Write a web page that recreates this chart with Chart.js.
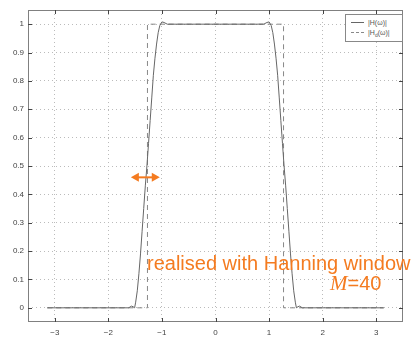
<!DOCTYPE html>
<html>
<head>
<meta charset="utf-8">
<script src="https://cdn.jsdelivr.net/npm/chart.js@4/dist/chart.umd.min.js"></script>
<style>
  body { margin: 0; background: #fff; }
  #wrap { position: relative; width: 417px; height: 343px; }
  .note { position: absolute; color: #F47B20; font-family: "Liberation Sans", Arial, sans-serif; font-size: 20px; line-height: 20px; white-space: nowrap; }
  .note i { font-family: "Liberation Serif", "Times New Roman", serif; font-size: 21px; }
  #legend { position: absolute; left: 345px; top: 14px; width: 56px; height: 26px; border: 1px solid #888; background: #fff;
            font-family: "Liberation Sans", Arial, sans-serif; font-size: 7px; color: #555; -webkit-font-smoothing: antialiased; }
  .row { position: absolute; left: 0; height: 9px; line-height: 9px; }
  .sample { position: absolute; left: 5px; top: 4px; width: 13px; height: 0; }
  .lbl { position: absolute; left: 22px; top: 0; white-space: nowrap; }
</style>
</head>
<body>
<div id="wrap">
  <canvas id="freqChart"></canvas>
  <div id="legend">
    <div class="row" style="top:3px"><div class="sample" style="border-top:1px solid #666"></div><span class="lbl">|H(ω)|</span></div>
    <div class="row" style="top:13px"><div class="sample" style="border-top:1px dashed #888"></div><span class="lbl">|H<sub style="font-size:5px">d</sub>(ω)|</span></div>
  </div>
  <div class="note" style="left:147px; top:253px;">realised with Hanning window</div>
  <div class="note" style="left:330px; top:273px;"><i>M</i>=40</div>
</div>
<script>
// |H(w)| of the Hanning-windowed filter
const hOmega = [-3.14, -1.62, -1.57, -1.54, -1.51, -1.49, -1.46, -1.43, -1.40, -1.37, -1.34, -1.31, -1.28, -1.25, -1.22, -1.19, -1.16, -1.13, -1.10, -1.07, -1.04, -1.00, -0.96, -0.90, -0.80,
                0.80, 0.90, 0.96, 1.00, 1.04, 1.07, 1.10, 1.13, 1.16, 1.19, 1.22, 1.25, 1.28, 1.31, 1.34, 1.37, 1.40, 1.43, 1.46, 1.49, 1.51, 1.54, 1.57, 1.62, 3.14];
const hMag = [0, 0, 0.006, 0.004, 0.0, 0.02, 0.06, 0.12, 0.19, 0.27, 0.35, 0.43, 0.50, 0.58, 0.66, 0.74, 0.82, 0.88, 0.93, 0.97, 0.995, 1.008, 1.006, 1.0, 1.0,
              1.0, 1.0, 1.006, 1.008, 0.995, 0.97, 0.93, 0.88, 0.82, 0.74, 0.66, 0.58, 0.50, 0.43, 0.35, 0.27, 0.19, 0.12, 0.06, 0.02, 0.0, 0.004, 0.006, 0, 0];

// ideal response |Hd(w)|
const hdOmega = [-3.14, -1.27, -1.27, 1.27, 1.27, 3.14];
const hdMag = [0, 0, 1, 1, 0, 0];

const xTicks = [-3, -2, -1, 0, 1, 2, 3];
const yTicks = [0, 0.1, 0.2, 0.3, 0.4, 0.5, 0.6, 0.7, 0.8, 0.9, 1];

const toPoints = (xs, ys) => xs.map((x, i) => ({ x: x, y: ys[i] }));

// frame box, inward ticks and the orange arrow
const framePlugin = {
    id: 'frame',
    afterDatasetsDraw(chart) {
        const { ctx, chartArea: a, scales } = chart;
        ctx.save();
        ctx.strokeStyle = '#808080';
        ctx.lineWidth = 1;
        ctx.setLineDash([]);
        ctx.strokeRect(a.left + 0.5, a.top + 0.5, a.right - a.left - 1, a.bottom - a.top - 1);
        ctx.strokeStyle = '#444';
        ctx.beginPath();
        xTicks.forEach(v => {
            const px = Math.round(scales.x.getPixelForValue(v)) + 0.5;
            ctx.moveTo(px, a.bottom); ctx.lineTo(px, a.bottom - 4);
            ctx.moveTo(px, a.top); ctx.lineTo(px, a.top + 4);
        });
        yTicks.forEach(v => {
            const py = Math.round(scales.y.getPixelForValue(v)) + 0.5;
            ctx.moveTo(a.left, py); ctx.lineTo(a.left + 4, py);
            ctx.moveTo(a.right, py); ctx.lineTo(a.right - 4, py);
        });
        ctx.stroke();

        // double-headed arrow showing the transition band
        const y = scales.y.getPixelForValue(0.46);
        const x1 = scales.x.getPixelForValue(-1.58);
        const x2 = scales.x.getPixelForValue(-1.04);
        ctx.strokeStyle = '#F47B20';
        ctx.fillStyle = '#F47B20';
        ctx.lineWidth = 2;
        ctx.beginPath();
        ctx.moveTo(x1 + 5, y); ctx.lineTo(x2 - 5, y);
        ctx.stroke();
        ctx.beginPath();
        ctx.moveTo(x1, y); ctx.lineTo(x1 + 8, y - 4.5); ctx.lineTo(x1 + 8, y + 4.5); ctx.closePath();
        ctx.moveTo(x2, y); ctx.lineTo(x2 - 8, y - 4.5); ctx.lineTo(x2 - 8, y + 4.5); ctx.closePath();
        ctx.fill();
        ctx.restore();
    }
};

const ctx = document.getElementById('freqChart').getContext('2d');
new Chart(ctx, {
    type: 'scatter',
    data: {
        datasets: [{
            label: '|H(ω)|',
            data: toPoints(hOmega, hMag),
            showLine: true,
            borderColor: '#666',
            borderWidth: 1,
            pointRadius: 0,
            tension: 0
        }, {
            label: '|Hd(ω)|',
            data: toPoints(hdOmega, hdMag),
            showLine: true,
            borderColor: '#888',
            borderWidth: 1,
            borderDash: [5, 4],
            pointRadius: 0,
            tension: 0
        }]
    },
    options: {
        responsive: true,
        maintainAspectRatio: false,
        animation: false,
        layout: { padding: { top: 10, right: 14, left: 0, bottom: 0 } },
        plugins: { legend: { display: false }, tooltip: { enabled: false } },
        scales: {
            x: {
                type: 'linear',
                min: -3.5,
                max: 3.5,
                afterBuildTicks: axis => { axis.ticks = xTicks.map(v => ({ value: v })); },
                afterFit: axis => { axis.height = 21; },
                grid: { color: '#bbb', drawTicks: false },
                border: { display: false, dash: [1, 3] },
                ticks: { padding: 6, color: '#444', font: { family: 'Liberation Sans, Arial', size: 8 }, maxRotation: 0,
                         callback: v => (v < 0 ? '\u2212' + Math.abs(v) : String(v)) }
            },
            y: {
                type: 'linear',
                min: -0.05,
                max: 1.05,
                afterBuildTicks: axis => { axis.ticks = yTicks.map(v => ({ value: v })); },
                afterFit: axis => { axis.width = 28; },
                grid: { color: '#bbb', drawTicks: false },
                border: { display: false, dash: [1, 3] },
                ticks: { padding: 4, color: '#444', font: { family: 'Liberation Sans, Arial', size: 8 },
                         callback: v => String(Math.round(v * 10) / 10) }
            }
        }
    },
    plugins: [framePlugin]
});
</script>
</body>
</html>
